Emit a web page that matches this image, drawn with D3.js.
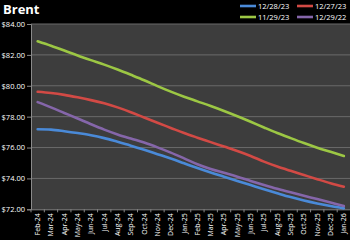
<!DOCTYPE html>
<html>
<head>
<meta charset="utf-8">
<script src="https://cdn.jsdelivr.net/npm/d3@7"></script>
<style>
  html, body { margin: 0; padding: 0; background: #000; }
  svg { display: block; font-family: "Open Sans", "DejaVu Sans", sans-serif; }
</style>
</head>
<body>
<svg id="svg"></svg>
<script>
const months = ["Feb-24","Mar-24","Apr-24","May-24","Jun-24","Jul-24","Aug-24","Sep-24","Oct-24","Nov-24","Dec-24",
    "Jan-25","Feb-25","Mar-25","Apr-25","May-25","Jun-25","Jul-25","Aug-25","Sep-25","Oct-25","Nov-25","Dec-25","Jan-26"];

const s122823 = [77.18,77.16,77.06,76.94,76.80,76.61,76.37,76.12,75.85,75.57,75.29,74.98,
    74.67,74.38,74.11,73.84,73.57,73.30,73.04,72.79,72.57,72.38,72.21,72.06];
const s122723 = [79.61,79.53,79.41,79.25,79.07,78.86,78.60,78.29,77.94,77.60,77.27,76.94,
    76.64,76.35,76.06,75.77,75.45,75.09,74.77,74.49,74.22,73.95,73.69,73.46];
const s112923 = [82.88,82.59,82.28,81.96,81.66,81.37,81.05,80.71,80.36,79.98,79.62,79.29,
    78.99,78.69,78.37,78.03,77.67,77.30,76.94,76.61,76.29,75.99,75.72,75.45];
const s122922 = [78.94,78.60,78.24,77.88,77.51,77.16,76.85,76.58,76.32,76.01,75.67,75.30,
    74.92,74.61,74.36,74.11,73.84,73.58,73.33,73.10,72.88,72.66,72.44,72.21];

const yTicks = [72, 74, 76, 78, 80, 82, 84];

const series = [
    { name: "12/28/23", values: s122823, color: "#4a8ad8" },
    { name: "12/27/23", values: s122723, color: "#d24a45" },
    { name: "11/29/23", values: s112923, color: "#9cc744" },
    { name: "12/29/22", values: s122922, color: "#8566aa" }
];

const W = 350, H = 240;
const margin = { top: 24, right: 0, bottom: 31, left: 31 };

const svg = d3.select("#svg").attr("width", W).attr("height", H);

// title
svg.append("text")
    .attr("x", 3).attr("y", 14)
    .attr("fill", "#fff")
    .attr("font-size", 13).attr("font-weight", "bold")
    .text("Brent");

const x = d3.scaleBand()
    .domain(months)
    .range([margin.left, W - margin.right + 0.5]);

const y = d3.scaleLinear()
    .domain([72, 84])
    .range([H - margin.bottom + 0.3, margin.top]);

// plot background
svg.append("rect")
    .attr("x", margin.left).attr("y", margin.top)
    .attr("width", W - margin.left).attr("height", y(72) - margin.top)
    .attr("fill", "#3d3d3d");

// gridlines
svg.append("g")
    .selectAll("line")
    .data(yTicks.slice(1))
    .join("line")
    .attr("x1", margin.left).attr("x2", W)
    .attr("y1", d => y(d)).attr("y2", d => y(d))
    .attr("stroke", "#6a6a6a").attr("stroke-width", 1);

// y axis
const yAxis = svg.append("g")
    .attr("transform", "translate(" + margin.left + ",0)")
    .call(d3.axisLeft(y).tickValues(yTicks).tickFormat(d => "$" + d3.format(".2f")(d)).tickSize(4).tickPadding(2));
yAxis.select(".domain").attr("stroke", "#8a8a8a");
yAxis.selectAll(".tick line").attr("stroke", "#8a8a8a");
yAxis.selectAll("text").attr("fill", "#fff").attr("font-size", 7.5)
    .attr("font-family", "'Open Sans', 'DejaVu Sans', sans-serif");

// x axis
const xAxis = svg.append("g")
    .attr("transform", "translate(0," + y(72) + ")")
    .call(d3.axisBottom(x).tickSize(0).tickPadding(0));
xAxis.select(".domain").attr("stroke", "#8a8a8a");
xAxis.selectAll(".tick").each(function (d, i) {
    const g = d3.select(this);
    g.append("line")
        .attr("x1", -x.bandwidth() / 2).attr("x2", -x.bandwidth() / 2)
        .attr("y1", 0).attr("y2", 3)
        .attr("stroke", "#8a8a8a");
});
xAxis.selectAll("text")
    .attr("fill", "#fff").attr("font-size", 7)
    .attr("font-family", "'Open Sans', 'DejaVu Sans', sans-serif")
    .attr("text-anchor", "end")
    .attr("transform", "rotate(-90)")
    .attr("x", -4).attr("y", 0).attr("dy", "0.35em");

// lines
const line = d3.line()
    .x((d, i) => x(months[i]) + x.bandwidth() / 2)
    .y(d => y(d))
    .curve(d3.curveCatmullRom.alpha(0.5));

svg.append("g")
    .selectAll("path")
    .data(series)
    .join("path")
    .attr("fill", "none")
    .attr("stroke", d => d.color)
    .attr("stroke-width", 2.6)
    .attr("stroke-linecap", "round")
    .attr("d", d => line(d.values));

// legend
const legendPos = [[240, 6], [297, 6], [240, 17], [297, 17]];
const legend = svg.append("g")
    .selectAll("g")
    .data(series)
    .join("g")
    .attr("transform", (d, i) => "translate(" + legendPos[i][0] + "," + legendPos[i][1] + ")");
legend.append("line")
    .attr("x1", 0).attr("x2", 16)
    .attr("stroke", d => d.color).attr("stroke-width", 2.6);
legend.append("text")
    .attr("x", 18).attr("dy", "0.35em")
    .attr("fill", "#fff").attr("font-size", 7.5)
    .text(d => d.name);
</script>
</body>
</html>
